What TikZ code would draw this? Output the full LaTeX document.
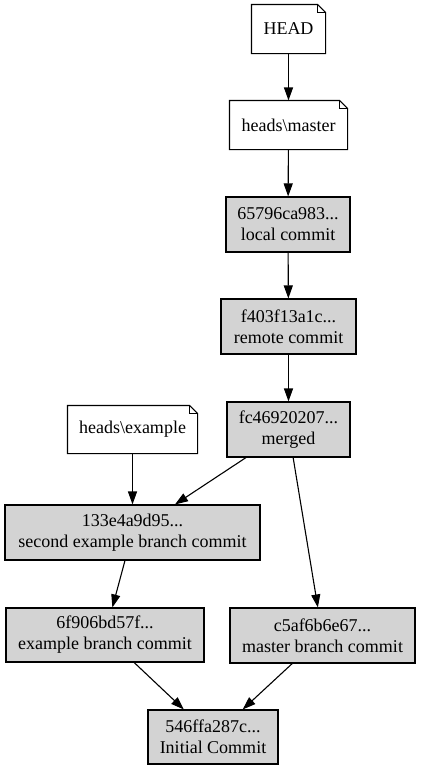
\documentclass[tikz,border=0pt]{standalone}
\usepackage{fontspec}
\setmainfont{Liberation Serif}
\usetikzlibrary{arrows.meta}
\definecolor{commitgray}{RGB}{211,211,211}
\tikzset{
  base/.style={inner sep=0pt, align=center, font=\fontsize{18}{21}\selectfont, line width=1.1pt},
  commit/.style={base, draw, fill=commitgray},
  note/.style={base},
  edge/.style={line width=1.1pt, -{Triangle[length=13pt,width=9pt]}}
}
\newcommand{\notebox}[1]{%
  \draw[line width=1.1pt, fill=white] (#1.south west) -- (#1.south east) -- ([yshift=-8pt]#1.north east) -- ([xshift=-8pt]#1.north east) -- (#1.north west) -- cycle;
  \draw[line width=1.1pt] ([xshift=-8pt]#1.north east) -- ([xshift=-8pt,yshift=-8pt]#1.north east) -- ([yshift=-8pt]#1.north east);
}
\begin{document}
\begin{tikzpicture}[x=1pt,y=-1pt]
\useasboundingbox (0,0) rectangle (422,771);
\fill[white] (0,0) rectangle (422,771);
% note nodes (outline drawn by \notebox)
\node[note, minimum width=73pt, minimum height=48pt] (head) at (288.5,29) {};
\node[note, minimum width=117pt, minimum height=48pt] (master) at (288.5,125) {};
\node[note, minimum width=129pt, minimum height=47pt] (hex) at (132.5,429.5) {};
\notebox{head}
\notebox{master}
\notebox{hex}
\node[note] at (head) {HEAD};
\node[note] at (master) {heads\textbackslash master};
\node[note] at (hex) {heads\textbackslash example};
% commits
\node[commit, minimum width=124pt, minimum height=55pt] (c1) at (288,224.5) {65796ca983...\\local commit};
\node[commit, minimum width=135pt, minimum height=55pt] (c2) at (288.5,326.5) {f403f13a1c...\\remote commit};
\node[commit, minimum width=123pt, minimum height=55pt] (c3) at (288.5,429.5) {fc46920207...\\merged};
\node[commit, minimum width=255pt, minimum height=55pt] (c4) at (132.5,532.5) {133e4a9d95...\\second example branch commit};
\node[commit, minimum width=198pt, minimum height=54pt] (c5) at (105,635) {6f906bd57f...\\example branch commit};
\node[commit, minimum width=185pt, minimum height=55pt] (c6) at (322.5,635.5) {c5af6b6e67...\\master branch commit};
\node[commit, minimum width=130pt, minimum height=54pt] (c7) at (213,737) {546ffa287c...\\Initial Commit};
% edges
\draw[edge] (head) -- (master);
\draw[edge] (master) -- (c1);
\draw[edge] (c1) -- (c2);
\draw[edge] (c2) -- (c3);
\draw[edge] (hex) -- (c4);
\draw[edge] (c3) -- (c4);
\draw[edge] (c3) -- (c6);
\draw[edge] (c4) -- (c5);
\draw[edge] (c5) -- (c7);
\draw[edge] (c6) -- (c7);
\end{tikzpicture}
\end{document}
